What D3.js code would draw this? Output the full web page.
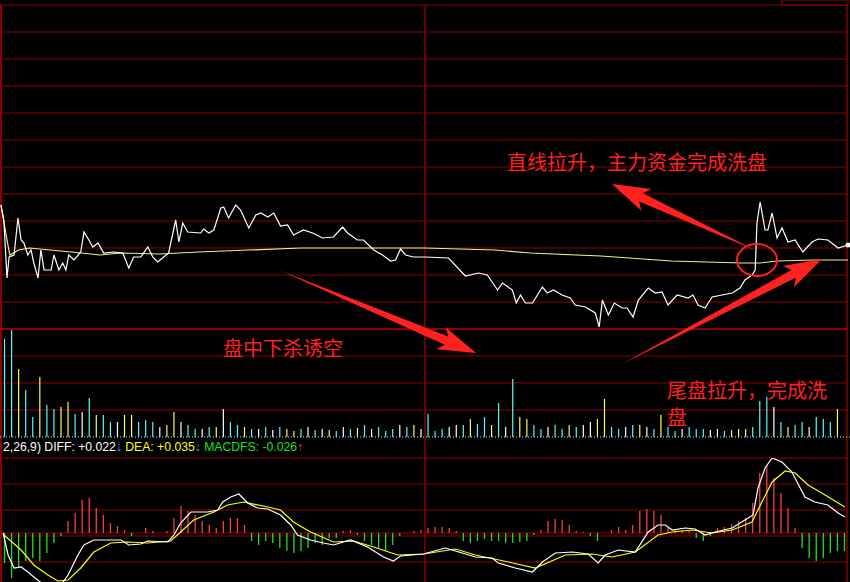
<!DOCTYPE html>
<html><head><meta charset="utf-8">
<script src="https://cdn.jsdelivr.net/npm/d3@7"></script>
<style>body{margin:0;background:#000}svg{display:block}</style>
</head><body>
<svg id="c" width="850" height="582"></svg>
<script>
// minute index (0..240) and price level of the intraday line
var priceT = [0,0.8,1.7,2.3,3.7,4.8,5.7,6.5,7.6,8.5,9.3,10.5,11.3,12.2,14.2,15,16.4,17.5,18.4,19.2,20.7,22.6,23.5,24.9,26,27.5,29.1,32,34.5,36.2,37.6,39.6,41.6,43,44.4,46.1,47.5,49.5,50.4,51.5,52.9,56.6,57.4,58.9,60.3,62.3,63.1,64.5,66.5,67.9,70.2,72.2,73.6,75.6,77.3,79.2,81.2,82.9,85.7,88.3,91.1,94.2,96.8,98.2,101,102.7,105.6,108.1,110.4,111.8,113.2,114.6,116.9,118.9,120.3,126.8,131.6,135.3,137.8,140.7,142.1,144.9,146,147.2,148.6,150.6,153.4,154.8,156.5,159,161.3,162.7,165.6,168.4,169.5,170.4,172.1,173.8,176,177.4,179.1,180.6,183.4,185.4,187.3,189,191.6,194.7,196.1,197.5,199.5,201.5,204.3,207.2,209.4,210.8,212.8,213.7,214.2,215.1,216.5,217.3,218.5,219.9,221.3,223,225,227.2,229.8,231.5,234.3,237.2,240];
var priceV = [95,80,22,43,45,82,60,57,45,50,37,22,50,30,30,45,30,37,30,45,40,48,68,60,53,57,47,48,47,32,43,43,53,43,38,43,47,80,58,77,68,67,71,67,70,92,93,82,95,90,72,85,87,83,87,74,75,65,70,67,62,63,73,67,60,60,50,45,39,40,51,45,43,43,43,42,24,27,25,10,17,10,-3,5,-3,-3,13,7,10,5,2,-5,-7,-13,-27,0,-15,-3,-8,-8,-17,0,12,7,8,-5,5,2,5,-5,-8,3,5,7,12,20,25,30,77,98,70,70,87,62,72,58,60,48,58,61,60,52,55];
var avgT = [0,1.7,2.5,5,8,14,20,28,34,45,56,70,85,100,120,130,140,150,170,190,210,215,220,230,240];
var avgV = [95,60,45,50,52,50,48,45,47,46,48,50,52,52,52,51,50,47,44,39,37,37,39,40,40];

// volume per 2-minute bin and its colour code (c cyan, y yellow, w white)
var volume = [98,107,68,47,20,60,32,28,30,35,23,25,39,22,22,15,15,22,22,15,17,15,10,12,25,15,12,8,8,10,10,28,15,12,10,8,8,10,7,10,8,6,8,10,7,8,7,6,10,8,9,12,8,10,6,8,12,10,12,8,23,6,8,10,12,12,18,13,20,12,34,10,58,20,18,12,8,10,12,8,12,10,12,15,18,38,10,8,10,12,12,10,8,22,10,6,8,10,8,8,7,8,6,7,8,8,10,36,40,30,15,10,12,15,10,20,18,15,28,35];
var volColor = "ccyccyccyycwcyccwyycccwyywccwcywccycwcwcyycwcwycwcycwcccwcywcccwwcyccycwcyyccwccycwwyyccwcywcyccwcccwwcyyycccwcyccwcccy";

// MACD
var diffT = [0.6,2,3.7,5.7,7.6,9.3,12.2,17,19,21.8,23.5,26.3,34,36.2,39.6,41.6,47.3,49,50.9,53.8,58.6,61.4,62.8,65.1,67.4,69.9,72.7,75.6,79.2,82.1,84,87.7,91.4,94.2,99,103.9,108.4,111.2,113.2,119.7,125.9,130.7,134.4,139.2,140.9,145.7,150.6,153.4,157.1,161.9,166.4,169.2,171.2,174.9,179.7,183.4,186.2,188.2,190.2,193.9,196.7,199.5,202.3,207.2,210.8,213.1,214.5,216.5,218.5,221.3,224.1,227.8,230.6,234.3,237.2,239.1];
var diffV = [0,-0.22,-0.35,-0.34,-0.39,-0.44,-0.52,-0.52,-0.42,-0.22,-0.12,-0.07,-0.07,-0.12,-0.11,-0.08,-0.09,-0.02,0.1,0.21,0.21,0.23,0.31,0.36,0.39,0.3,0.25,0.24,0.18,0.08,-0.02,-0.07,-0.1,-0.12,-0.07,-0.14,-0.24,-0.28,-0.23,-0.21,-0.15,-0.2,-0.24,-0.25,-0.3,-0.35,-0.39,-0.29,-0.2,-0.19,-0.21,-0.3,-0.22,-0.17,-0.19,0.01,0.08,0.08,0.03,0.05,0.04,-0.02,0.01,0.05,0.13,0.18,0.45,0.65,0.75,0.71,0.61,0.36,0.31,0.28,0.2,0.16];
var deaT = [0.8,5.7,9.3,13.3,16.1,19,22.6,26.3,31.1,35.9,41.6,48.1,50.9,54.6,60.3,64.2,68.8,75.6,79.2,82.9,87.7,94.2,99.9,105.6,112.4,119.7,128.8,134.4,143.8,151.4,159.9,167.5,173.2,179.7,186.2,190.2,195.8,201.5,207.2,212.8,215.6,218.5,222.2,225,228.7,233.5,239.1];
var deaV = [-0.02,-0.17,-0.32,-0.42,-0.48,-0.47,-0.35,-0.19,-0.1,-0.09,-0.1,-0.08,0.01,0.13,0.21,0.28,0.31,0.26,0.23,0.11,0.01,-0.09,-0.08,-0.14,-0.22,-0.21,-0.16,-0.22,-0.29,-0.35,-0.22,-0.21,-0.24,-0.19,-0.02,0.01,0.03,0,0.03,0.11,0.31,0.51,0.62,0.6,0.48,0.38,0.26];
var macdBar = [-0.3,-0.45,-0.35,-0.28,-0.25,-0.28,-0.2,-0.1,-0.03,0.12,0.2,0.33,0.35,0.25,0.18,0.1,0.07,0.03,-0.03,0,0.05,0.02,0,0.02,0.15,0.27,0.22,0.18,0.12,0.08,0.05,0.12,0.15,0.15,0.08,-0.08,-0.12,-0.08,-0.1,-0.15,-0.18,-0.2,-0.18,-0.15,-0.1,-0.12,-0.05,-0.05,0.02,0.03,-0.02,-0.08,-0.12,-0.15,-0.18,-0.12,-0.03,0,0.02,0.03,0.05,0.06,0.06,0.05,0.02,-0.08,-0.1,-0.08,-0.06,-0.08,-0.08,-0.1,-0.1,-0.09,-0.08,-0.02,0.03,0.12,0.14,0.13,0.08,0.02,0.01,-0.03,-0.08,0,0.03,0.06,0.03,0.08,0.22,0.24,0.22,0.18,0.05,0.04,0.03,0.02,-0.05,-0.08,-0.03,0.05,0.06,0.09,0.12,0.15,0.3,0.6,0.68,0.55,0.4,0.25,0.05,-0.15,-0.25,-0.28,-0.25,-0.2,-0.18,-0.18];

var notes = [
  {text: "直线拉升，主力资金完成洗盘", x: 507, y: 170},
  {text: "盘中下杀诱空", x: 223, y: 356},
  {text: "尾盘拉升，完成洗", x: 667, y: 398},
  {text: "盘", x: 667, y: 425}
];

var svg = d3.select("#c");
var grid = "#8c0000";
svg.append("rect").attr("width", 850).attr("height", 582).attr("fill", "#000");

var x = d3.scaleLinear().domain([0, 240]).range([1, 848]);
var yP = d3.scaleLinear().domain([-29, 295]).range([329, 5]);
var yV = d3.scaleLinear().domain([0, 107]).range([437, 330]);
var yM = d3.scaleLinear().domain([-0.49, 0.75]).range([582, 458]);

// grid
d3.range(0, 13).forEach(function(k) {
  svg.append("line").attr("x1", 0).attr("x2", 848).attr("y1", yP(295 - 27 * k)).attr("y2", yP(295 - 27 * k))
    .attr("stroke", grid).attr("stroke-width", k == 12 ? 2 : 1.2);
});
[27, 54, 81].forEach(function(v) {
  svg.append("line").attr("x1", 0).attr("x2", 848).attr("y1", yV(v)).attr("y2", yV(v)).attr("stroke", grid).attr("stroke-width", 1.2);
});
[0.75, 0.49, 0.23, -0.03, -0.29].forEach(function(v) {
  svg.append("line").attr("x1", 0).attr("x2", 848).attr("y1", yM(v)).attr("y2", yM(v)).attr("stroke", grid).attr("stroke-width", 1.2);
});
svg.append("line").attr("x1", 0).attr("x2", 848).attr("y1", yM(0)).attr("y2", yM(0)).attr("stroke", grid).attr("stroke-width", 1.2);
svg.append("line").attr("x1", 425).attr("x2", 425).attr("y1", 5).attr("y2", 582).attr("stroke", grid).attr("stroke-width", 1.5);
svg.append("line").attr("x1", 1).attr("x2", 1).attr("y1", 5).attr("y2", 582).attr("stroke", grid).attr("stroke-width", 2);
svg.append("line").attr("x1", 847).attr("x2", 847).attr("y1", 5).attr("y2", 582).attr("stroke", grid).attr("stroke-width", 1.5);
svg.append("line").attr("x1", 0).attr("x2", 850).attr("y1", 437).attr("y2", 437)
  .attr("stroke", "#9ff").attr("stroke-dasharray", "1,2");
svg.append("rect").attr("x", 782).attr("y", 0).attr("width", 66).attr("height", 5).attr("fill", "none").attr("stroke", grid);

// volume
var colMap = {c: "#54fcfc", y: "#fcfc54", w: "#ffffff"};
svg.selectAll(".vol").data(volume).enter().append("line")
  .attr("x1", function(d, i) { return x(i * 2 + 1); }).attr("x2", function(d, i) { return x(i * 2 + 1); })
  .attr("y1", yV(0)).attr("y2", function(d) { return yV(d); })
  .attr("stroke", function(d, i) { return colMap[volColor[i]]; }).attr("stroke-width", 1.2);

// price + average
var avgLine = d3.line().x(function(d) { return x(d[0]); }).y(function(d) { return yP(d[1]); });
svg.append("path").attr("d", avgLine(d3.zip(avgT, avgV))).attr("fill", "none").attr("stroke", "#f0f080").attr("stroke-width", 1.2);
svg.append("path").attr("d", avgLine(d3.zip(priceT, priceV))).attr("fill", "none").attr("stroke", "#fff").attr("stroke-width", 1.2);
svg.append("circle").attr("cx", x(240)).attr("cy", yP(55)).attr("r", 2.5).attr("fill", "#fff");

// MACD
svg.append("defs").append("clipPath").attr("id", "mclip").append("rect").attr("x", 0).attr("y", 458).attr("width", 850).attr("height", 124);
var mg = svg.append("g").attr("clip-path", "url(#mclip)");
mg.selectAll(".mb").data(macdBar).enter().append("line")
  .attr("x1", function(d, i) { return x(i * 2 + 1); }).attr("x2", function(d, i) { return x(i * 2 + 1); })
  .attr("y1", yM(0)).attr("y2", function(d) { return yM(d); })
  .attr("stroke", function(d) { return d >= 0 ? "#ff3c3c" : "#1ee01e"; }).attr("stroke-width", 1.3);
var mLine = d3.line().x(function(d) { return x(d[0]); }).y(function(d) { return yM(d[1]); });
mg.append("path").attr("d", mLine(d3.zip(deaT, deaV))).attr("fill", "none").attr("stroke", "#ffff00").attr("stroke-width", 1.2);
mg.append("path").attr("d", mLine(d3.zip(diffT, diffV))).attr("fill", "none").attr("stroke", "#fff").attr("stroke-width", 1.2);

var label = svg.append("text").attr("x", 3).attr("y", 451).attr("font-family", "Liberation Sans, Arial").attr("font-size", 12.2);
label.append("tspan").attr("fill", "#fff").text("2,26,9) DIFF: +0.022");
label.append("tspan").attr("fill", "#3ab0ff").text("↓");
label.append("tspan").attr("fill", "#ffff00").text(" DEA: +0.035");
label.append("tspan").attr("fill", "#3ab0ff").text("↓");
label.append("tspan").attr("fill", "#1ee01e").text(" MACDFS: -0.026");
label.append("tspan").attr("fill", "#ff3c3c").text("↑");

// annotations
var red = "#ff2020";
function arrow(x0, y0, x1, y1) {
  var dx = x1 - x0, dy = y1 - y0, L = Math.sqrt(dx * dx + dy * dy);
  var ux = dx / L, uy = dy / L, px = -uy, py = ux;
  var hl = 32, hw = 12, sw = 4.5;
  var bx = x1 - ux * hl, by = y1 - uy * hl;
  var pts = [[x0, y0], [bx + px * sw, by + py * sw], [bx + px * hw - ux * 6, by + py * hw - uy * 6], [x1, y1],
             [bx - px * hw - ux * 6, by - py * hw - uy * 6], [bx - px * sw, by - py * sw]];
  svg.append("polygon").attr("points", pts.map(function(p) { return p.join(","); }).join(" ")).attr("fill", red);
}
arrow(279, 270, 476, 353);
arrow(757, 251, 612, 184);
arrow(622, 364, 822, 259);
svg.append("ellipse").attr("cx", 757).attr("cy", 260).attr("rx", 20).attr("ry", 16).attr("fill", "none").attr("stroke", red).attr("stroke-width", 2);

svg.selectAll(".note").data(notes).enter().append("text")
  .attr("x", function(d) { return d.x; }).attr("y", function(d) { return d.y; })
  .attr("font-family", "Noto Sans CJK SC").attr("font-size", 20).attr("fill", red)
  .text(function(d) { return d.text; });
</script>
</body></html>
